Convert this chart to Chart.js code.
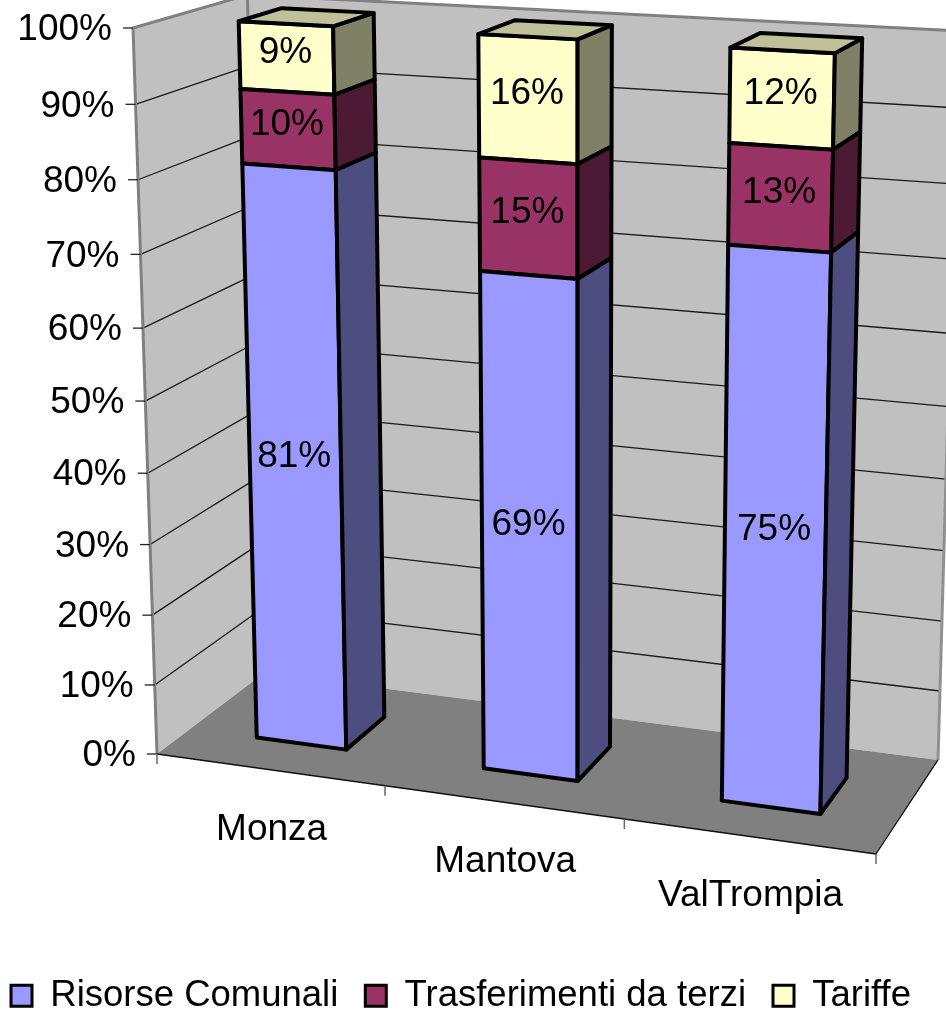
<!DOCTYPE html>
<html>
<head>
<meta charset="utf-8">
<title>Risorse</title>
<script src="https://cdn.jsdelivr.net/npm/chart.js@4"></script>
<style>
  html, body { margin: 0; background: #fff; }
  canvas { display: block; }
</style>
</head>
<body>
<canvas id="chart" width="946" height="1011"></canvas>
<script>
// Data
const categories = ['Monza', 'Mantova', 'ValTrompia'];
const risorseComunali = [81, 69, 75];
const trasferimenti = [10, 15, 13];
const tariffe = [9, 16, 12];
const seriesNames = ['Risorse Comunali', 'Trasferimenti da terzi', 'Tariffe'];
const frontColors = ['#9999FF', '#993366', '#FFFFCC'];
const sideColors = ['#4D4D80', '#4D1A33', '#808066'];
const topColor = '#C0C099';

const FONT = '37px "Liberation Sans", Arial, sans-serif';

// Perspective of the box: corners of the floor and walls, plus how much each axis shrinks
const origin = [157, 754];
const endU = [876, 854];
const endV = [133, 28];
const endW = [264, 673];
const shrinkU = -0.0713, shrinkV = -0.054, shrinkW = 0.0733;
const barFront = 0.30, barBack = 0.69;

function project(u, v, w) {
  const d = 1 + shrinkU * u + shrinkV * v + shrinkW * w;
  const axis = i => origin[i]
    + u * ((1 + shrinkU) * endU[i] - origin[i])
    + v * ((1 + shrinkV) * endV[i] - origin[i])
    + w * ((1 + shrinkW) * endW[i] - origin[i]);
  return [axis(0) / d, axis(1) / d - 5 * u * v * v];
}

function poly(ctx, pts, fill, stroke, lw) {
  ctx.beginPath();
  pts.forEach((p, i) => i ? ctx.lineTo(p[0], p[1]) : ctx.moveTo(p[0], p[1]));
  if (fill) {
    ctx.closePath();
    ctx.fillStyle = fill;
    ctx.fill();
  }
  if (stroke) {
    ctx.strokeStyle = stroke;
    ctx.lineWidth = lw;
    ctx.stroke();
  }
}

const toU = (chart, px) => (px - chart.scales.x.left) / chart.scales.x.width;
const toV = (chart, py) => (chart.scales.y.bottom - py) / chart.scales.y.height;

const box3d = {
  id: 'box3d',
  beforeDatasetsDraw(chart) {
    const ctx = chart.ctx;
    const yScale = chart.scales.y;
    const xScale = chart.scales.x;
    ctx.save();
    ctx.lineJoin = 'round';

    // walls and floor
    poly(ctx, [project(0, 0, 0), project(0, 1, 0), project(0, 1, 1), project(0, 0, 1)], '#C0C0C0');
    poly(ctx, [project(0, 0, 1), project(0, 1, 1), project(1, 1, 1), project(1, 0, 1)], '#C0C0C0');
    poly(ctx, [project(0, 0, 0), project(1, 0, 0), project(1, 0, 1), project(0, 0, 1)], '#808080');

    // grid lines from the value ticks
    yScale.ticks.forEach(t => {
      if (t.value === yScale.min || t.value === yScale.max) return;
      const v = toV(chart, yScale.getPixelForValue(t.value));
      poly(ctx, [project(0, v, 0), project(0, v, 1), project(1, v, 1)], null, '#1a1a1a', 1.3);
    });

    // wall edges
    poly(ctx, [project(0, 0, 0), project(0, 1, 0), project(0, 1, 1), project(1, 1, 1)], null, '#808080', 3);
    poly(ctx, [project(0, 0, 1), project(0, 1, 1)], null, '#808080', 3);
    poly(ctx, [project(1, 0, 1), project(1, 1, 1)], null, '#909090', 3);
    poly(ctx, [project(0, 0, 0), project(1, 0, 0), project(1, 0, 1)], null, '#111', 1.3);

    // axis ticks and labels
    ctx.font = FONT;
    ctx.textAlign = 'right';
    ctx.textBaseline = 'middle';
    yScale.ticks.forEach(t => {
      const p = project(0, toV(chart, yScale.getPixelForValue(t.value)), 0);
      poly(ctx, [[p[0] - 10, p[1]], p], null, '#222', 1.3);
      ctx.fillStyle = '#000';
      ctx.fillText(t.label, p[0] - 21, p[1] + 2);
    });
    const edges = [0, 1 / 3, 2 / 3, 1];
    edges.forEach(u => {
      const p = project(u, 0, 0);
      poly(ctx, [p, [p[0], p[1] + 10]], null, '#666', 1.5);
    });
    ctx.textAlign = 'center';
    xScale.ticks.forEach((t, i) => {
      const p = project(toU(chart, xScale.getPixelForValue(i)), 0, 0);
      ctx.fillStyle = '#000';
      ctx.fillText(t.label, p[0] + 2, p[1] + 60);
    });
    ctx.restore();
  },
  beforeDatasetDraw(chart, args) {
    const ctx = chart.ctx;
    const i = args.index;
    ctx.save();
    ctx.lineJoin = 'round';
    args.meta.data.forEach(bar => {
      const u0 = toU(chart, bar.x - bar.width / 2);
      const u1 = toU(chart, bar.x + bar.width / 2);
      const v0 = toV(chart, bar.base);
      const v1 = toV(chart, bar.y);
      poly(ctx, [project(u0, v0, barFront), project(u1, v0, barFront), project(u1, v1, barFront), project(u0, v1, barFront)],
        frontColors[i], '#000', 4);
      poly(ctx, [project(u1, v0, barFront), project(u1, v0, barBack), project(u1, v1, barBack), project(u1, v1, barFront)],
        sideColors[i], '#000', 4);
      if (i === seriesNames.length - 1) {
        poly(ctx, [project(u0, v1, barFront), project(u1, v1, barFront), project(u1, v1, barBack), project(u0, v1, barBack)],
          topColor, '#000', 4);
      }
    });
    ctx.restore();
    return false;
  },
  afterDatasetsDraw(chart) {
    const ctx = chart.ctx;
    ctx.save();
    ctx.font = FONT;
    ctx.fillStyle = '#000';
    ctx.textAlign = 'center';
    ctx.textBaseline = 'middle';
    chart.data.datasets.forEach((ds, i) => {
      chart.getDatasetMeta(i).data.forEach((bar, j) => {
        const v = (toV(chart, bar.base) + toV(chart, bar.y)) / 2;
        const p = project(toU(chart, bar.x), v, barFront);
        ctx.fillText(ds.data[j] + '%', p[0] - 1, p[1] - 5);
      });
    });
    ctx.restore();
  }
};

new Chart(document.getElementById('chart'), {
  type: 'bar',
  data: {
    labels: categories,
    datasets: [
      { label: seriesNames[0], data: risorseComunali, backgroundColor: frontColors[0] },
      { label: seriesNames[1], data: trasferimenti, backgroundColor: frontColors[1] },
      { label: seriesNames[2], data: tariffe, backgroundColor: frontColors[2] }
    ].map(ds => Object.assign(ds, { borderColor: '#000', borderWidth: 3, categoryPercentage: 1, barPercentage: 0.40 }))
  },
  options: {
    responsive: false,
    animation: false,
    events: [],
    layout: { padding: { bottom: -13, left: -44, right: -20 } },
    scales: {
      x: { display: false, stacked: true },
      y: {
        display: false,
        stacked: true,
        min: 0,
        max: 100,
        ticks: { stepSize: 10, callback: v => v + '%' }
      }
    },
    plugins: {
      tooltip: { enabled: false },
      legend: {
        position: 'bottom',
        labels: {
          boxWidth: 21,
          boxHeight: 21,
          padding: 27,
          color: '#000',
          font: { family: '"Liberation Sans", Arial, sans-serif', size: 36.5 }
        }
      }
    }
  },
  plugins: [box3d]
});
</script>
</body>
</html>
